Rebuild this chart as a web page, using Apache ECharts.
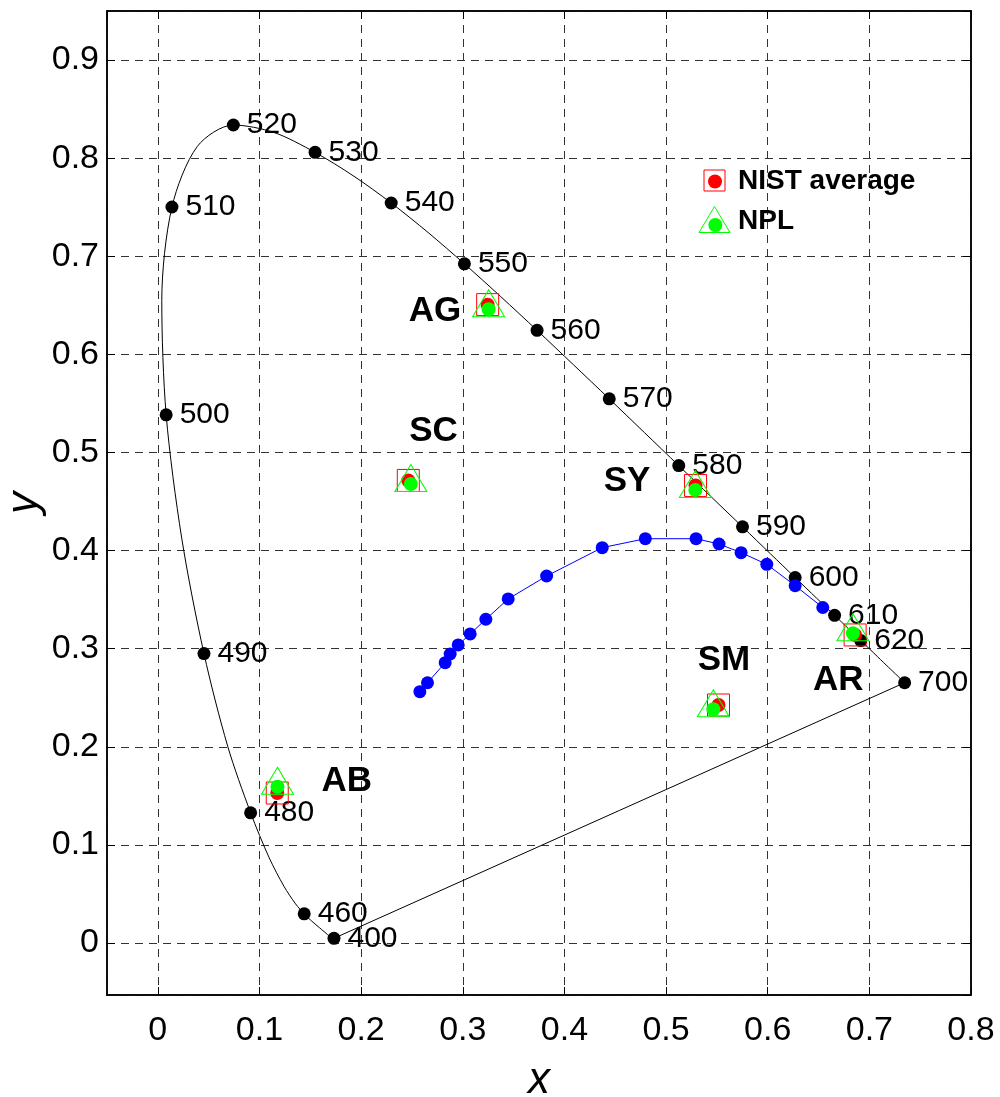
<!DOCTYPE html>
<html>
<head>
<meta charset="utf-8">
<script src="https://cdn.jsdelivr.net/npm/echarts@6/dist/echarts.min.js"></script>
<style>
    html, body { margin: 0; padding: 0; background: #fff; }
    #chart { width: 1000px; height: 1097px; }
</style>
</head>
<body>
<div id="chart"></div>
<script>
// CIE 1931 spectral locus, 5 nm steps
var locusWl = [400, 405, 410, 415, 420, 425, 430, 435, 440, 445, 450, 455, 460, 465, 470, 475, 480, 485, 490, 495,
    500, 505, 510, 515, 520, 525, 530, 535, 540, 545, 550, 555, 560, 565, 570, 575, 580, 585, 590, 595,
    600, 605, 610, 615, 620, 625, 630, 635, 640, 645, 650, 655, 660, 665, 670, 675, 680, 685, 690, 695, 700];
var locusX = [0.1733, 0.1730, 0.1726, 0.1721, 0.1714, 0.1703, 0.1689, 0.1669, 0.1644, 0.1611, 0.1566, 0.1510, 0.1440, 0.1355, 0.1241, 0.1096, 0.0913, 0.0687, 0.0454, 0.0235,
    0.0082, 0.0039, 0.0139, 0.0389, 0.0743, 0.1142, 0.1547, 0.1929, 0.2296, 0.2658, 0.3016, 0.3373, 0.3731, 0.4087, 0.4441, 0.4788, 0.5125, 0.5448, 0.5752, 0.6029,
    0.6270, 0.6482, 0.6658, 0.6801, 0.6915, 0.7006, 0.7079, 0.7140, 0.7190, 0.7230, 0.7260, 0.7283, 0.7300, 0.7311, 0.7320, 0.7327, 0.7334, 0.7340, 0.7344, 0.7346, 0.7347];
var locusY = [0.0048, 0.0048, 0.0048, 0.0048, 0.0051, 0.0058, 0.0069, 0.0086, 0.0109, 0.0138, 0.0177, 0.0227, 0.0297, 0.0399, 0.0578, 0.0868, 0.1327, 0.2007, 0.2950, 0.4127,
    0.5384, 0.6548, 0.7502, 0.8120, 0.8338, 0.8262, 0.8059, 0.7816, 0.7543, 0.7243, 0.6923, 0.6589, 0.6245, 0.5896, 0.5547, 0.5202, 0.4866, 0.4544, 0.4242, 0.3965,
    0.3725, 0.3514, 0.3340, 0.3197, 0.3083, 0.2993, 0.2920, 0.2859, 0.2809, 0.2770, 0.2740, 0.2717, 0.2700, 0.2689, 0.2680, 0.2673, 0.2666, 0.2660, 0.2656, 0.2654, 0.2653];

// labelled wavelengths
var markWl = [400, 460, 480, 490, 500, 510, 520, 530, 540, 550, 560, 570, 580, 590, 600, 610, 620, 700];

// blue locus points
var blueX = [0.2578, 0.2653, 0.2827, 0.2876, 0.2955, 0.3073, 0.3227, 0.3447, 0.3825, 0.4372, 0.4796, 0.5295, 0.5521, 0.5738, 0.5991, 0.6270, 0.6542];
var blueY = [0.2562, 0.2653, 0.2857, 0.2946, 0.3038, 0.3150, 0.3300, 0.3507, 0.3741, 0.4030, 0.4121, 0.4121, 0.4067, 0.3979, 0.3860, 0.3642, 0.3420];

// samples
var sampleNames = ['AG', 'SC', 'SY', 'SM', 'AR', 'AB'];
var nistX = [0.3245, 0.2464, 0.5290, 0.5516, 0.6860, 0.1175];
var nistY = [0.6507, 0.4715, 0.4664, 0.2426, 0.3140, 0.1529];
var nplX = [0.3254, 0.2489, 0.5288, 0.5465, 0.6838, 0.1177];
var nplY = [0.6460, 0.4679, 0.4618, 0.2382, 0.3157, 0.1593];
var nameX = [0.2727, 0.2712, 0.4616, 0.5569, 0.6695, 0.1859];
var nameY = [0.6435, 0.5212, 0.4702, 0.2885, 0.2681, 0.1651];

var FONT = '"Liberation Sans", Arial, sans-serif';

function pairs(xs, ys) {
    return xs.map(function (x, i) { return [x, ys[i]]; });
}

var locus = pairs(locusX, locusY);
var i400 = locusWl.indexOf(400);
var i700 = locusWl.indexOf(700);
var purple = [locus[i700], locus[i400]];
var marks = markWl.map(function (wl) {
    var i = locusWl.indexOf(wl);
    return {value: [locusX[i], locusY[i]], name: String(wl)};
});
var names = sampleNames.map(function (n, i) {
    return {value: [nameX[i], nameY[i]], name: n};
});
var nist = pairs(nistX, nistY);
var npl = pairs(nplX, nplY);

var myChart = echarts.init(document.getElementById('chart'));

var gridStyle = {show: true, lineStyle: {color: '#333', type: [8, 6], width: 1}};
var axisLine = {show: true, onZero: false, lineStyle: {color: '#000', width: 1.5}};
var tick = {show: true, inside: true, length: 8, lineStyle: {color: '#000', width: 1}};

var option = {
    animation: false,
    backgroundColor: '#fff',
    grid: {
        left: 107, top: 11, width: 864, height: 984, show: true,
        borderColor: '#000', borderWidth: 1.5, outerBoundsMode: 'none', containLabel: false
    },
    xAxis: [
        {
            type: 'value', min: -0.05, max: 0.8, splitNumber: 8,
            name: 'x', nameLocation: 'middle', nameGap: 64, nameMoveOverlap: false,
            nameTextStyle: {fontFamily: FONT, fontSize: 44, fontStyle: 'italic', color: '#000'},
            axisLine: axisLine, axisTick: tick, splitLine: gridStyle,
            axisLabel: {showMinLabel: false, showMaxLabel: true, margin: 19, fontFamily: FONT, fontSize: 34, color: '#000'}
        },
        {
            type: 'value', min: -0.05, max: 0.8, splitNumber: 8, position: 'top',
            axisLine: axisLine, axisTick: tick, splitLine: {show: false}, axisLabel: {show: false}
        }
    ],
    yAxis: [
        {
            type: 'value', min: -0.053, max: 0.95, splitNumber: 10,
            name: 'y', nameLocation: 'middle', nameGap: 60, nameRotate: 90, nameMoveOverlap: false,
            nameTextStyle: {fontFamily: FONT, fontSize: 44, fontStyle: 'italic', color: '#000'},
            axisLine: axisLine, axisTick: tick, splitLine: gridStyle,
            axisLabel: {showMinLabel: false, showMaxLabel: false, margin: 8, fontFamily: FONT, fontSize: 34, color: '#000'}
        },
        {
            type: 'value', min: -0.053, max: 0.95, splitNumber: 10, position: 'right',
            axisLine: axisLine, axisTick: tick, splitLine: {show: false}, axisLabel: {show: false}
        }
    ],
    series: [
        {
            name: 'locus', type: 'line', data: locus, showSymbol: false, smooth: 0.3,
            lineStyle: {color: '#000', width: 1, opacity: 1}, z: 2
        },
        {
            name: 'purple', type: 'line', data: purple, showSymbol: false,
            lineStyle: {color: '#000', width: 1, opacity: 1}, z: 2
        },
        {
            name: 'wavelengths', type: 'scatter', data: marks, symbol: 'circle', symbolSize: 13,
            itemStyle: {color: '#000', opacity: 1}, z: 3,
            label: {
                show: true, position: 'right', distance: 7, formatter: '{b}',
                fontFamily: FONT, fontSize: 30, color: '#000', opacity: 1
            }
        },
        {
            name: 'blue', type: 'line', data: pairs(blueX, blueY), symbol: 'circle', symbolSize: 13,
            showAllSymbol: true, itemStyle: {color: '#0000ff', opacity: 1}, lineStyle: {color: '#0000ff', width: 1}, z: 3
        },
        {
            name: 'NIST average', type: 'scatter', data: nist, symbol: 'rect', symbolSize: 22,
            itemStyle: {color: 'rgba(0,0,0,0)', borderColor: '#ff0000', borderWidth: 1, opacity: 1}, z: 4
        },
        {
            name: 'NIST dot', type: 'scatter', data: nist, symbol: 'circle', symbolSize: 14,
            itemStyle: {color: '#ff0000', opacity: 1}, z: 5
        },
        {
            name: 'NPL', type: 'scatter', data: npl, symbol: 'triangle', symbolSize: [32, 27], symbolOffset: [0, -6],
            itemStyle: {color: 'rgba(0,0,0,0)', borderColor: '#00ff00', borderWidth: 1, opacity: 1}, z: 6
        },
        {
            name: 'NPL dot', type: 'scatter', data: npl, symbol: 'circle', symbolSize: 14,
            itemStyle: {color: '#00ff00', opacity: 1}, z: 7
        },
        {
            name: 'samples', type: 'scatter', data: names, symbolSize: 0, z: 8,
            itemStyle: {opacity: 1},
            label: {
                show: true, position: 'inside', formatter: '{b}',
                fontFamily: FONT, fontSize: 35, fontWeight: 'bold', color: '#000', opacity: 1
            }
        }
    ],
    graphic: [
        {type: 'rect', shape: {x: 704, y: 170, width: 21, height: 21}, style: {fill: 'none', stroke: '#ff0000', lineWidth: 1}, z: 10},
        {type: 'circle', shape: {cx: 715, cy: 181.5, r: 7}, style: {fill: '#ff0000'}, z: 10},
        {type: 'text', x: 738, y: 181, style: {text: 'NIST average', font: 'bold 28px ' + FONT, fill: '#000', verticalAlign: 'middle'}, z: 10},
        {type: 'polygon', shape: {points: [[714.5, 206.5], [699, 232.5], [730, 232.5]]}, style: {fill: 'none', stroke: '#00ff00', lineWidth: 1}, z: 10},
        {type: 'circle', shape: {cx: 715.3, cy: 225, r: 7}, style: {fill: '#00ff00'}, z: 10},
        {type: 'text', x: 738, y: 221, style: {text: 'NPL', font: 'bold 28px ' + FONT, fill: '#000', verticalAlign: 'middle'}, z: 10}
    ]
};

myChart.setOption(option);
</script>
</body>
</html>
